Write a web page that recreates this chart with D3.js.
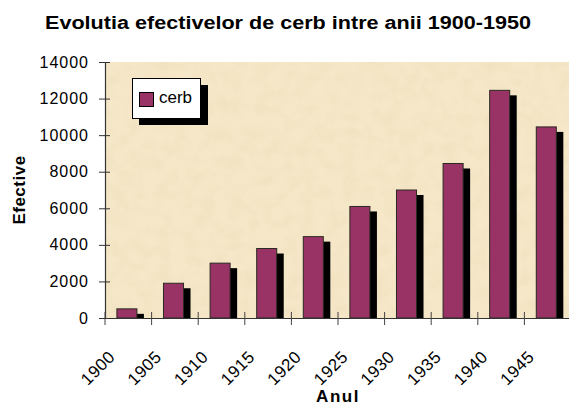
<!DOCTYPE html>
<html>
<head>
<meta charset="utf-8">
<script src="https://cdn.jsdelivr.net/npm/d3@7"></script>
<style>
  body { margin: 0; background: #fff; }
  svg text { font-family: "Liberation Sans", Arial, sans-serif; fill: #000; }
</style>
</head>
<body>
<div id="chart"></div>
<script>
// data
const years = ['1900', '1905', '1910', '1915', '1920', '1925', '1930', '1935', '1940', '1945']
const cerb = [500, 1900, 3000, 3800, 4450, 6100, 7000, 8450, 12450, 10450]
const yTicks = [0, 2000, 4000, 6000, 8000, 10000, 12000, 14000]
const seriesName = 'cerb'
const title = 'Evolutia efectivelor de cerb intre anii 1900-1950'

const width = 569
const height = 405
const plotLeft = 105
const plotRight = 571
const plotTop = 62
const plotBottom = 318

const svg = d3.select('#chart').append('svg')
  .attr('width', width)
  .attr('height', height)

// parchment look for the plot area
const defs = svg.append('defs')
const f = defs.append('filter').attr('id', 'parch')
  .attr('x', 0).attr('y', 0).attr('width', '100%').attr('height', '100%')
f.append('feTurbulence')
  .attr('type', 'fractalNoise')
  .attr('baseFrequency', 0.07)
  .attr('numOctaves', 4)
  .attr('seed', 11)
  .attr('result', 'noise')
f.append('feColorMatrix')
  .attr('in', 'noise')
  .attr('type', 'matrix')
  .attr('values', '0 0 0 0 0.84  0 0 0 0 0.70  0 0 0 0 0.46  0.8 0 0 0 -0.30')
  .attr('result', 'tint')
f.append('feComposite').attr('in', 'tint').attr('in2', 'SourceGraphic').attr('operator', 'in')

const x = d3.scaleBand().domain(years).range([plotLeft, plotRight])
const y = d3.scaleLinear().domain([0, 14000]).range([plotBottom, plotTop])
const step = x.step()

svg.append('rect')
  .attr('x', plotLeft).attr('y', plotTop)
  .attr('width', plotRight - plotLeft).attr('height', plotBottom - plotTop)
  .attr('fill', '#F5E7C8')
svg.append('rect')
  .attr('x', plotLeft).attr('y', plotTop)
  .attr('width', plotRight - plotLeft).attr('height', plotBottom - plotTop)
  .attr('fill', '#fff')
  .attr('filter', 'url(#parch)')

// title
svg.append('text')
  .attr('x', 288)
  .attr('y', 29)
  .attr('text-anchor', 'middle')
  .attr('font-size', 18)
  .attr('font-weight', 'bold')
  .attr('textLength', 486)
  .attr('lengthAdjust', 'spacingAndGlyphs')
  .text(title)

// bars with their drop shadow
const barX = d => x(d) + step * 0.255
const barW = step * 0.43
const g = svg.append('g')
g.selectAll('rect.shadow')
  .data(years)
  .join('rect')
  .attr('class', 'shadow')
  .attr('x', d => barX(d) + 7)
  .attr('y', (d, i) => y(cerb[i]) + 5)
  .attr('width', barW)
  .attr('height', (d, i) => plotBottom - y(cerb[i]) - 5)
  .attr('fill', '#000')
g.selectAll('rect.bar')
  .data(years)
  .join('rect')
  .attr('class', 'bar')
  .attr('x', d => barX(d))
  .attr('y', (d, i) => y(cerb[i]))
  .attr('width', barW)
  .attr('height', (d, i) => plotBottom - y(cerb[i]))
  .attr('fill', '#993366')
  .attr('stroke', '#2a2a22')
  .attr('stroke-width', 1)

// y axis
const yAxis = svg.append('g')
  .attr('transform', `translate(${plotLeft},0)`)
  .call(d3.axisLeft(y).tickValues(yTicks).tickSize(6).tickSizeOuter(0).tickPadding(10).tickFormat(d3.format('d')))
yAxis.select('.domain').attr('stroke', '#333').attr('stroke-width', 1.2)
yAxis.selectAll('.tick line').attr('x1', 5).attr('stroke', '#333')
yAxis.selectAll('.tick text')
  .attr('font-size', 16)
  .attr('letter-spacing', 1)
  .attr('font-family', '"Liberation Sans", Arial, sans-serif')

// x axis, ticks sit at the start of each category
const xAxis = svg.append('g')
  .attr('transform', `translate(0,${plotBottom})`)
  .call(d3.axisBottom(x).tickSize(7).tickSizeOuter(0))
xAxis.select('.domain').attr('stroke', '#333').attr('stroke-width', 1.2)
  .attr('d', `M${plotLeft},0.5H${width}`)
xAxis.selectAll('.tick').attr('transform', d => `translate(${x(d)},0)`)
xAxis.selectAll('.tick line').attr('y1', -6).attr('stroke', '#444')
xAxis.selectAll('.tick text')
  .attr('y', 0)
  .attr('dy', 0)
  .attr('text-anchor', 'end')
  .attr('transform', 'translate(11,40) rotate(-45)')
  .attr('font-size', 17)
  .attr('letter-spacing', 0.5)
  .attr('font-family', '"Liberation Sans", Arial, sans-serif')

// axis titles
svg.append('text')
  .attr('transform', `translate(25,${(plotTop + plotBottom) / 2}) rotate(-90)`)
  .attr('text-anchor', 'middle')
  .attr('font-size', 17)
  .attr('font-weight', 'bold')
  .attr('letter-spacing', 0.5)
  .text('Efective')
svg.append('text')
  .attr('x', (plotLeft + plotRight) / 2)
  .attr('y', 402)
  .attr('text-anchor', 'middle')
  .attr('font-size', 17)
  .attr('font-weight', 'bold')
  .attr('letter-spacing', 1.5)
  .text('Anul')

// legend
const lg = svg.append('g').attr('transform', 'translate(132,78)')
lg.append('rect').attr('x', 7).attr('y', 7).attr('width', 69).attr('height', 40).attr('fill', '#000')
lg.append('rect').attr('x', 0.5).attr('y', 0.5).attr('width', 68).attr('height', 40)
  .attr('fill', '#fff').attr('stroke', '#000')
lg.append('rect').attr('x', 7.5).attr('y', 14.5).attr('width', 14).attr('height', 14)
  .attr('fill', '#993366').attr('stroke', '#000')
lg.append('text').attr('x', 27).attr('y', 25).attr('font-size', 17).text(seriesName)
</script>
</body>
</html>
